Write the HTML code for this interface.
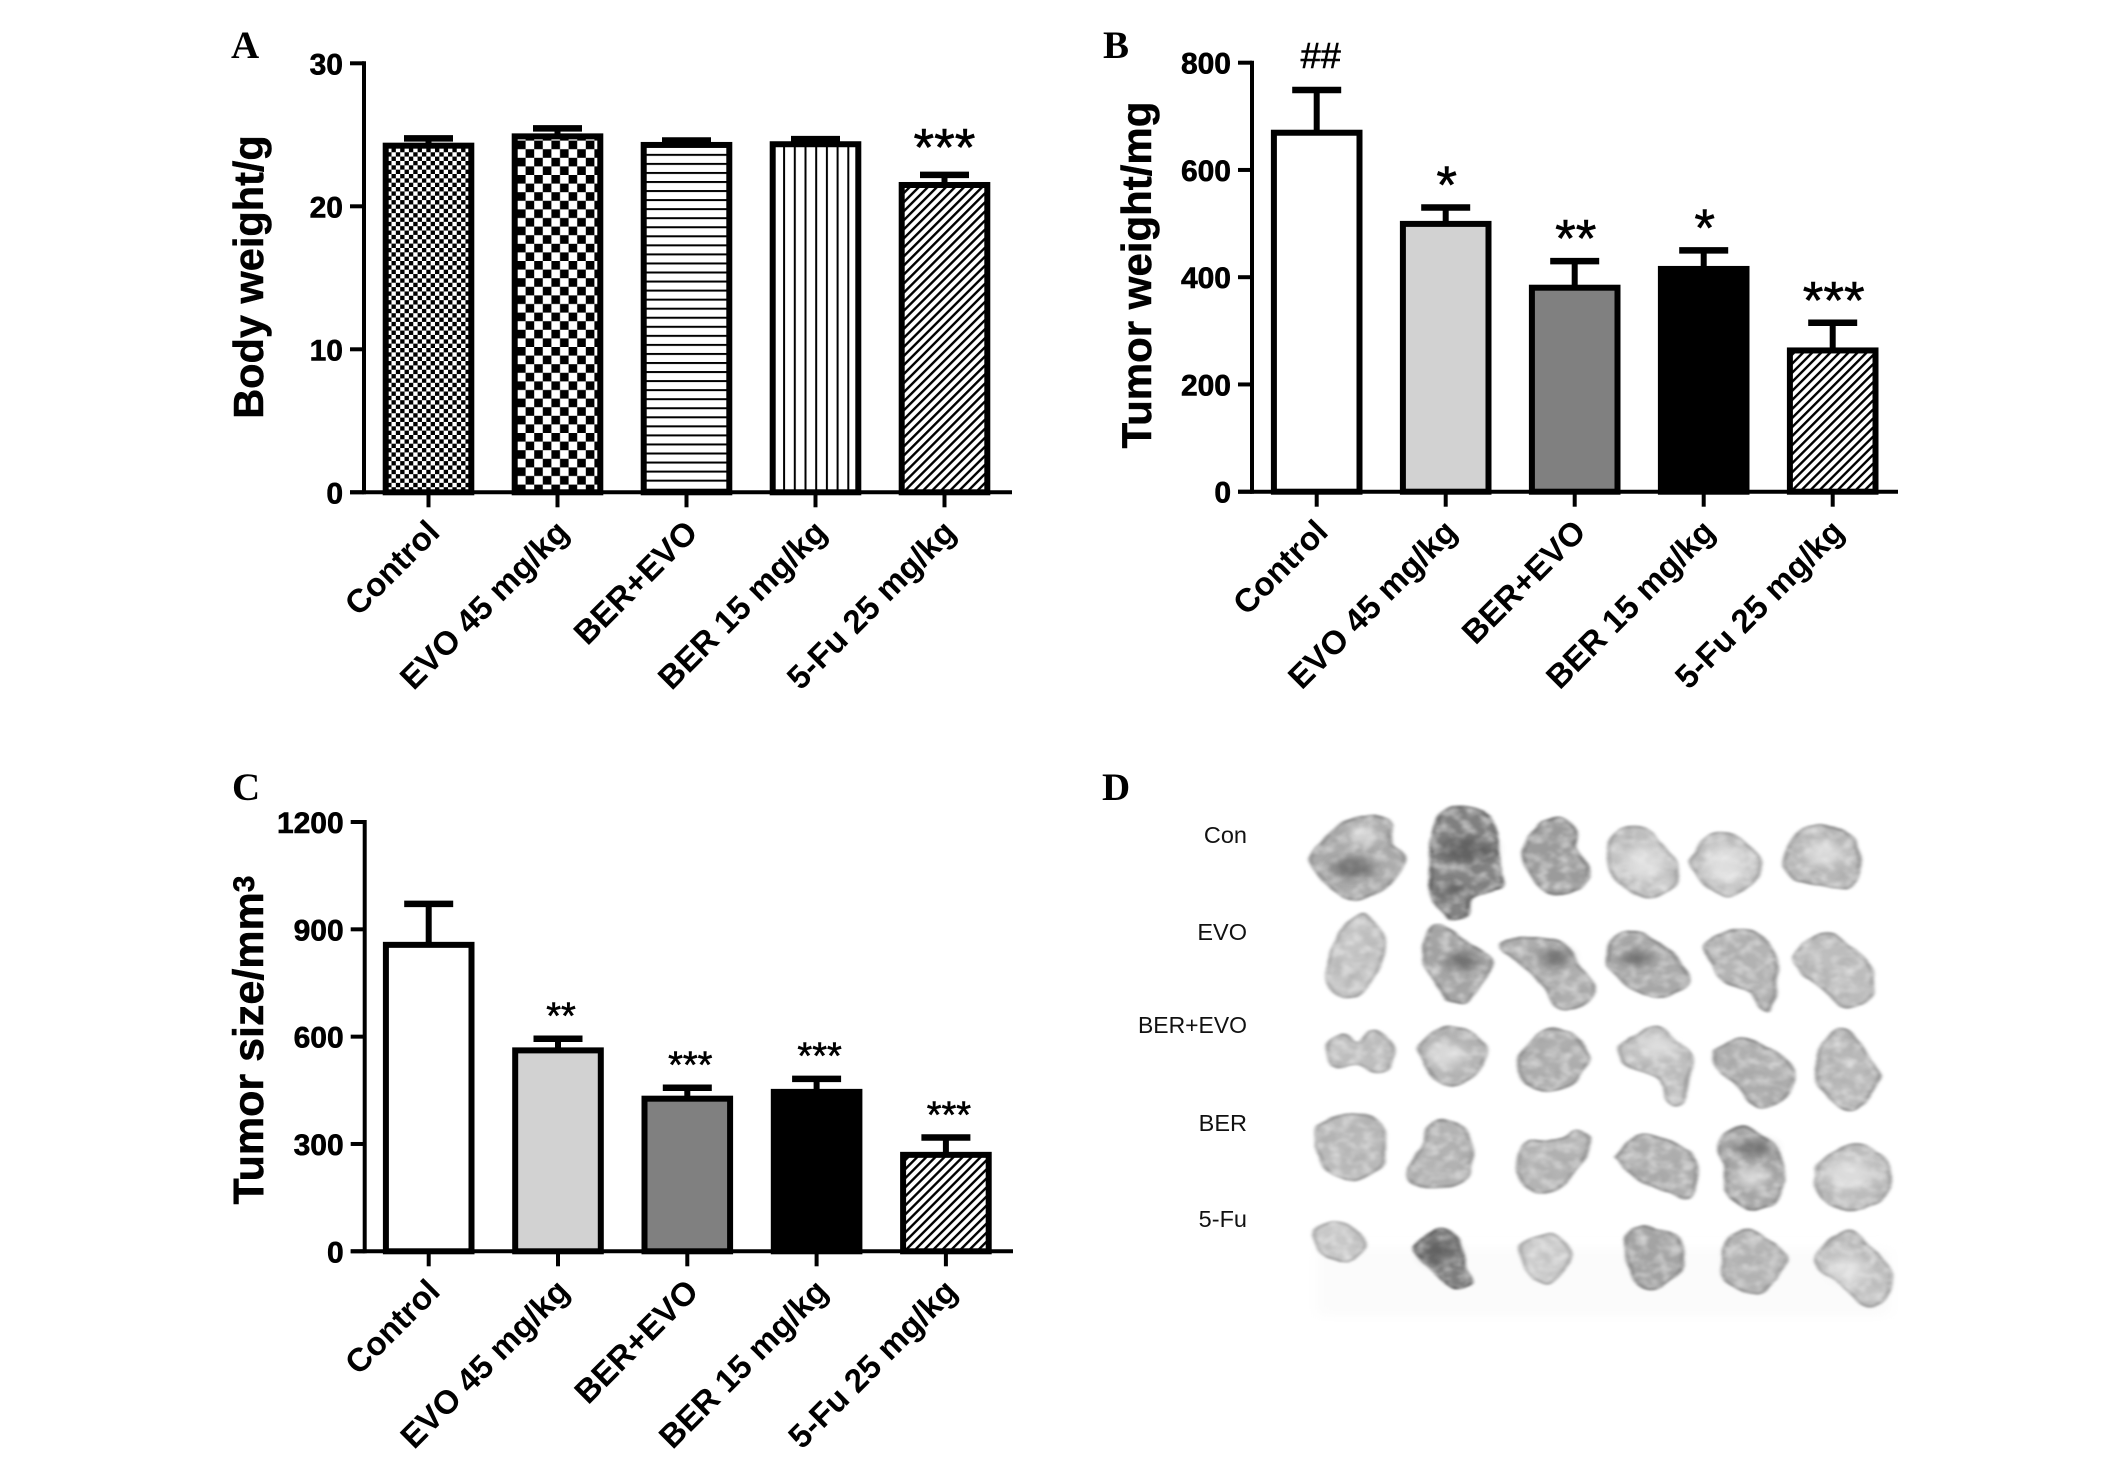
<!DOCTYPE html>
<html lang="en">
<head>
<meta charset="utf-8">
<title>Body weight, tumor weight and tumor size by treatment group</title>
<style>
html,body{margin:0;padding:0;background:#fff;}
svg{display:block;}
text{font-family:"Liberation Sans",sans-serif;fill:#000;}
.tick-text{font-size:30px;font-weight:700;stroke:#000;stroke-width:.6px;}
.cat-text{font-size:33px;font-weight:700;}
.title-text{font-weight:700;stroke:#000;stroke-width:.5px;}
.letter{font-family:"Liberation Serif",serif;font-size:39px;font-weight:700;}
.row-label{font-size:23.5px;fill:#111;}
.mark-text{stroke:#000;stroke-width:.6px;}
</style>
</head>
<body>
<svg id="figure" xmlns="http://www.w3.org/2000/svg" width="2126" height="1465" viewBox="0 0 2126 1465">
  <defs>
    <pattern id="p-small-check" patternUnits="userSpaceOnUse" width="8.7" height="8.7">
      <rect width="8.7" height="8.7" fill="#fff"/>
      <rect width="4.35" height="4.35" fill="#000"/>
      <rect x="4.35" y="4.35" width="4.35" height="4.35" fill="#000"/>
    </pattern>
    <pattern id="p-large-check" patternUnits="userSpaceOnUse" width="17.2" height="17.2" x="1" y="3">
      <rect width="17.2" height="17.2" fill="#fff"/>
      <rect width="8.6" height="8.6" fill="#000"/>
      <rect x="8.6" y="8.6" width="8.6" height="8.6" fill="#000"/>
    </pattern>
    <pattern id="p-horizontal" patternUnits="userSpaceOnUse" width="10" height="9.05">
      <rect width="10" height="9.05" fill="#fff"/>
      <rect y="0" width="10" height="2" fill="#000"/>
    </pattern>
    <pattern id="p-vertical" patternUnits="userSpaceOnUse" width="10.7" height="10" x="2">
      <rect width="10.7" height="10" fill="#fff"/>
      <rect x="0" width="2" height="10" fill="#000"/>
    </pattern>
    <pattern id="p-diagonal" patternUnits="userSpaceOnUse" width="6.4" height="6.4" patternTransform="rotate(45)">
      <rect width="6.4" height="6.4" fill="#fff"/>
      <rect x="0" width="2.4" height="6.4" fill="#000"/>
    </pattern>
    <filter id="tissue" x="-15%" y="-15%" width="130%" height="130%">
      <feTurbulence type="fractalNoise" baseFrequency=".02 .014" numOctaves="2" seed="11" result="warp"/>
      <feDisplacementMap in="SourceGraphic" in2="warp" scale="16" xChannelSelector="R" yChannelSelector="G" result="shaped"/>
      <feGaussianBlur in="shaped" stdDeviation="3.2" result="soft"/>
      <feTurbulence type="fractalNoise" baseFrequency=".03 .022" numOctaves="3" seed="7" result="noise"/>
      <feColorMatrix in="noise" type="matrix" values="0 0 0 0 .3  0 0 0 0 .3  0 0 0 0 .3  .9 0 0 0 -.38" result="mottle"/>
      <feGaussianBlur in="mottle" stdDeviation="3" result="mottleSoft"/>
      <feComposite in="mottleSoft" in2="soft" operator="in" result="dark"/>
      <feTurbulence type="fractalNoise" baseFrequency=".05 .04" numOctaves="3" seed="23" result="noise2"/>
      <feColorMatrix in="noise2" type="matrix" values="0 0 0 0 1  0 0 0 0 1  0 0 0 0 1  0 1 0 0 -.42" result="speck"/>
      <feGaussianBlur in="speck" stdDeviation="3" result="speckSoft"/>
      <feComposite in="speckSoft" in2="soft" operator="in" result="light"/>
      <feMerge><feMergeNode in="soft"/><feMergeNode in="dark"/><feMergeNode in="light"/></feMerge>
    </filter>
    <filter id="spot-blur" x="-60%" y="-60%" width="220%" height="220%">
      <feGaussianBlur stdDeviation="11"/>
    </filter>
    <filter id="bg-blur" x="-5%" y="-30%" width="110%" height="160%">
      <feGaussianBlur stdDeviation="14"/>
    </filter>
  </defs>
  <g id="panel-a"></g>
  <g id="panel-b"></g>
  <g id="panel-c"></g>
  <g id="panel-d">
    <text class="letter" x="1102" y="800">D</text>
    <text class="row-label" x="1247" y="843" text-anchor="end">Con</text>
    <text class="row-label" x="1247" y="940" text-anchor="end">EVO</text>
    <text class="row-label" x="1247" y="1033" text-anchor="end" textLength="109" lengthAdjust="spacingAndGlyphs">BER+EVO</text>
    <text class="row-label" x="1247" y="1131" text-anchor="end">BER</text>
    <text class="row-label" x="1247" y="1227" text-anchor="end">5-Fu</text>
    <g id="photo" transform="translate(1090,760) scale(.5464,.373)"></g>
  </g>
</svg>
<script>
// ---- chart data ----
const categories = ["Control", "EVO 45 mg/kg", "BER+EVO", "BER 15 mg/kg", "5-Fu 25 mg/kg"];

const bodyTicks = [0, 10, 20, 30];
const bodyWeight = [24.45, 25.1, 24.5, 24.55, 21.7];
const bodyWeightUpper = [24.75, 25.45, 24.6, 24.7, 22.2];
const bodySignificance = ["", "", "", "", "***"];

const tumorWeightTicks = [0, 200, 400, 600, 800];
const tumorWeight = [675, 505, 386, 421, 269];
const tumorWeightUpper = [749, 530, 430, 450, 315];
const tumorWeightSignificance = ["##", "*", "**", "*", "***"];

const tumorSizeTicks = [0, 300, 600, 900, 1200];
const tumorSize = [865, 570, 435, 454, 278];
const tumorSizeUpper = [971, 594, 457, 482, 318];
const tumorSizeSignificance = ["", "**", "***", "***", "***"];

const bodyFills = ["url(#p-small-check)", "url(#p-large-check)", "url(#p-horizontal)", "url(#p-vertical)", "url(#p-diagonal)"];
const treatmentFills = ["#ffffff", "#d2d2d2", "#808080", "#000000", "url(#p-diagonal)"];

const NS = "http://www.w3.org/2000/svg";
function make(parent, tag, attrs, text) {
  const el = document.createElementNS(NS, tag);
  for (const k in attrs) el.setAttribute(k, attrs[k]);
  if (text !== undefined) el.textContent = text;
  parent.appendChild(el);
  return el;
}

function drawPanel(cfg) {
  const g = document.getElementById(cfg.id);
  const maxTick = cfg.ticks[cfg.ticks.length - 1];
  const yScale = v => cfg.y0 - (v / maxTick) * (cfg.y0 - cfg.yTop);
  const xScale = i => cfg.x0 + i * cfg.pitch;
  const barW = 91.6, lw = 6;

  const letter = make(g, "text", {class: "letter", x: cfg.letterX, y: cfg.letterY}, cfg.letter);
  
  

  cfg.values.forEach((v, i) => {
    const cx = xScale(i), top = yScale(v), capY = yScale(cfg.upper[i]);
    const stem = make(g, "line", {x1: cx, x2: cx, y1: capY, y2: top + 2, stroke: "#000", "stroke-width": lw});
    
    
    const cap = make(g, "line", {x1: cx - 24.5, x2: cx + 24.5, y1: capY, y2: capY, stroke: "#000", "stroke-width": lw + .5});
    
    
    const bar = make(g, "rect", {
      x: cx - barW / 2 + lw / 2, y: top + lw / 2,
      width: barW - lw, height: cfg.y0 - top - lw / 2,
      fill: cfg.fills[i], stroke: "#000", "stroke-width": lw
    });
    
    

    const sig = cfg.significance[i];
    if (sig) {
      const isHash = sig[0] === "#";
      const fs = isHash ? 36 : cfg.starSize;
      const baseline = isHash ? capY - 22 : capY - cfg.starGap + fs * .575;
      const mark = make(g, "text", {class: "mark-text", x: cx + (isHash ? 4 : cfg.starShift), y: baseline, "text-anchor": "middle", "font-size": fs}, sig);
      
      
    }

    const tick = make(g, "line", {x1: cx, x2: cx, y1: cfg.y0, y2: cfg.y0 + 15, stroke: "#000", "stroke-width": 4});
    
    

    const lx = cx + 13, ly = cfg.y0 + 42;
    const label = make(g, "text", {class: "cat-text", x: lx, y: ly, "text-anchor": "end", transform: "rotate(-45 " + lx + " " + ly + ")"}, categories[i]);
    
    
  });

  const yAxis = make(g, "line", {x1: cfg.axisX, x2: cfg.axisX, y1: cfg.yTop - 2, y2: cfg.y0 + 2, stroke: "#000", "stroke-width": 4});
  
  
  const xAxis = make(g, "line", {x1: cfg.axisX - 14, x2: cfg.axisEnd, y1: cfg.y0, y2: cfg.y0, stroke: "#000", "stroke-width": 4});
  
  

  cfg.ticks.forEach(t => {
    const y = yScale(t);
    const tick = make(g, "line", {x1: cfg.axisX - 14, x2: cfg.axisX, y1: y, y2: y, stroke: "#000", "stroke-width": 4});
    
    
    const label = make(g, "text", {class: "tick-text", x: cfg.axisX - 21, y: y + 11, "text-anchor": "end"}, String(t));
    
    
  });

  const title = make(g, "text", {class: "title-text", x: cfg.titleX, y: cfg.titleY, "text-anchor": "middle",
    transform: "rotate(-90 " + cfg.titleX + " " + cfg.titleY + ")", style: "font-size:" + cfg.titleSize + "px"}, cfg.title);
  
  
  if (cfg.titleSup) {
    const sup = make(title, "tspan", {dy: -9, style: "font-size:30px"}, cfg.titleSup);
    
    
  }
}

drawPanel({id: "panel-a", letter: "A", letterX: 231, letterY: 58, ticks: bodyTicks,
  values: bodyWeight, upper: bodyWeightUpper, significance: bodySignificance, fills: bodyFills,
  x0: 428.5, pitch: 129, y0: 492.3, yTop: 63.3, axisX: 364, axisEnd: 1012,
  starSize: 53, starGap: 40, starShift: 0, title: "Body weight/g", titleX: 263, titleY: 277, titleSize: 41.5});

drawPanel({id: "panel-b", letter: "B", letterX: 1103, letterY: 58, ticks: tumorWeightTicks,
  values: tumorWeight, upper: tumorWeightUpper, significance: tumorWeightSignificance, fills: treatmentFills,
  x0: 1316.7, pitch: 129, y0: 491.7, yTop: 62.7, axisX: 1252, axisEnd: 1898,
  starSize: 53, starGap: 35, starShift: 1, title: "Tumor weight/mg", titleX: 1151, titleY: 275, titleSize: 42});

drawPanel({id: "panel-c", letter: "C", letterX: 232, letterY: 800, ticks: tumorSizeTicks,
  values: tumorSize, upper: tumorSizeUpper, significance: tumorSizeSignificance, fills: treatmentFills,
  x0: 428.7, pitch: 129.3, y0: 1251.3, yTop: 822, axisX: 364.7, axisEnd: 1013,
  starSize: 38, starGap: 32, starShift: 3, title: "Tumor size/mm", titleSup: "3", titleX: 263, titleY: 1040, titleSize: 43});

// ---- panel D: hand-traced tumor outlines (a photograph in the source) ----
const tumors = [
  [172,[[430,210],[470,165],[520,150],[550,170],[550,225],[575,260],[565,310],[530,350],[480,375],[445,345],[415,305],[408,260]]],
  [128,[[640,150],[680,125],[730,150],[745,220],[750,300],[750,340],[700,370],[690,415],[660,425],[630,385],[625,330],[622,240]]],
  [155,[[800,220],[825,170],[860,155],[885,190],[890,240],[912,290],[900,340],[860,362],[825,340],[800,290],[793,250]]],
  [196,[[950,225],[975,185],[1010,180],[1040,220],[1075,280],[1070,330],[1030,368],[990,350],[955,300]]],
  [198,[[1105,250],[1135,200],[1170,195],[1210,240],[1223,285],[1205,335],[1165,362],[1125,330],[1100,280]]],
  [183,[[1280,220],[1320,180],[1370,185],[1405,230],[1405,300],[1385,345],[1340,335],[1290,315],[1272,275]]],
  [196,[[465,450],[500,412],[525,450],[540,500],[525,570],[490,630],[450,625],[433,580],[445,500]]],
  [165,[[620,455],[650,445],[690,490],[738,535],[720,590],[685,650],[655,645],[635,590],[612,540]]],
  [175,[[755,490],[800,480],[860,490],[890,540],[920,610],[900,660],[860,665],[825,600],[790,540],[760,515]]],
  [170,[[955,490],[985,458],[1030,480],[1090,560],[1085,610],[1040,635],[990,610],[955,560],[948,520]]],
  [180,[[1130,490],[1180,452],[1230,480],[1255,540],[1250,640],[1240,675],[1205,620],[1160,590],[1130,530]]],
  [190,[[1295,510],[1345,465],[1400,510],[1428,570],[1425,640],[1385,660],[1340,610],[1290,550]]],
  [192,[[432,770],[460,740],[490,755],[520,725],[550,760],[550,820],[520,833],[490,815],[450,820]]],
  [182,[[610,760],[650,716],[700,735],[722,790],[705,840],[665,872],[625,845],[605,790]]],
  [175,[[800,770],[845,720],[890,745],[910,800],[880,865],[830,887],[795,860],[787,810]]],
  [192,[[975,760],[1035,716],[1075,755],[1098,790],[1092,880],[1085,920],[1060,915],[1040,850],[985,820],[968,790]]],
  [175,[[1150,770],[1195,742],[1250,780],[1285,840],[1270,905],[1225,930],[1190,880],[1150,820],[1143,790]]],
  [185,[[1340,760],[1380,722],[1420,790],[1445,850],[1420,915],[1385,938],[1345,890],[1330,830]]],
  [186,[[425,980],[470,948],[530,975],[538,1060],[530,1085],[490,1122],[440,1105],[420,1060],[415,1020]]],
  [180,[[620,985],[650,968],[690,1000],[698,1070],[690,1120],[630,1148],[585,1125],[595,1070],[610,1030]]],
  [180,[[800,1025],[860,1020],[890,995],[915,1015],[905,1060],[875,1130],[825,1160],[790,1130],[780,1080]]],
  [175,[[965,1055],[1010,1005],[1070,1030],[1105,1075],[1100,1170],[1060,1160],[1000,1120],[965,1075]]],
  [165,[[1155,1015],[1200,985],[1255,1045],[1272,1110],[1255,1180],[1210,1205],[1170,1160],[1165,1085],[1150,1050]]],
  [190,[[1335,1080],[1395,1030],[1455,1070],[1465,1140],[1430,1195],[1375,1205],[1335,1160],[1328,1115]]],
  [202,[[415,1260],[450,1235],[490,1265],[502,1305],[475,1347],[440,1335],[418,1305]]],
  [125,[[600,1295],[635,1253],[675,1285],[685,1355],[695,1400],[665,1413],[640,1385],[610,1345],[595,1315]]],
  [205,[[795,1295],[840,1270],[870,1305],[877,1345],[840,1400],[810,1380],[790,1335]]],
  [165,[[985,1270],[1020,1250],[1075,1285],[1085,1355],[1040,1415],[1000,1400],[985,1335],[978,1295]]],
  [182,[[1170,1285],[1205,1263],[1265,1315],[1272,1355],[1240,1415],[1215,1433],[1170,1395],[1158,1335]]],
  [195,[[1340,1305],[1385,1260],[1425,1305],[1465,1375],[1445,1460],[1410,1455],[1375,1405],[1335,1365],[1328,1335]]]
];
const darkPatches = [[690,240,50,35],[660,350,25,20],[850,530,28,26],[480,290,40,30],[640,1320,30,35],[1215,1040,35,20],[1000,530,28,24],[680,540,28,26]];
const lightPatches = [[1015,275,35,45],[1165,280,35,50],[1340,250,35,35],[650,790,30,35],[1040,770,35,30],[1390,1110,40,40],[1210,1120,28,30],[1385,1370,35,35],[500,200,25,25]];

const photo = document.getElementById("photo");
const photoBg = make(photo, "rect", {x: 415, y: 1310, width: 1050, height: 180, fill: "#fbfbfb", filter: "url(#bg-blur)"});



function smoothPath(p) {
  const n = p.length;
  let d = "M" + p[0][0] + " " + p[0][1];
  for (let i = 0; i < n; i++) {
    const a = p[(i - 1 + n) % n], b = p[i], c = p[(i + 1) % n], e = p[(i + 2) % n];
    d += "C" + (b[0] + (c[0] - a[0]) / 6) + " " + (b[1] + (c[1] - a[1]) / 6) + " " +
         (c[0] - (e[0] - b[0]) / 6) + " " + (c[1] - (e[1] - b[1]) / 6) + " " + c[0] + " " + c[1];
  }
  return d + "Z";
}
tumors.forEach((t, i) => {
  const tone = t[0], edge = Math.max(tone - 38, 70);
  const blob = make(photo, "path", {d: smoothPath(t[1]),
    fill: "rgb(" + tone + "," + tone + "," + tone + ")",
    stroke: "rgb(" + edge + "," + edge + "," + edge + ")", "stroke-width": 6, filter: "url(#tissue)"});
  
  
});
darkPatches.forEach(s => {
  const spot = make(photo, "ellipse", {cx: s[0], cy: s[1], rx: s[2], ry: s[3], fill: "#4a4a4a", opacity: .55, filter: "url(#spot-blur)"});
  
  
});
lightPatches.forEach(s => {
  const spot = make(photo, "ellipse", {cx: s[0], cy: s[1], rx: s[2], ry: s[3], fill: "#f0f0f0", opacity: .6, filter: "url(#spot-blur)"});
  
  
});
</script>
</body>
</html>
